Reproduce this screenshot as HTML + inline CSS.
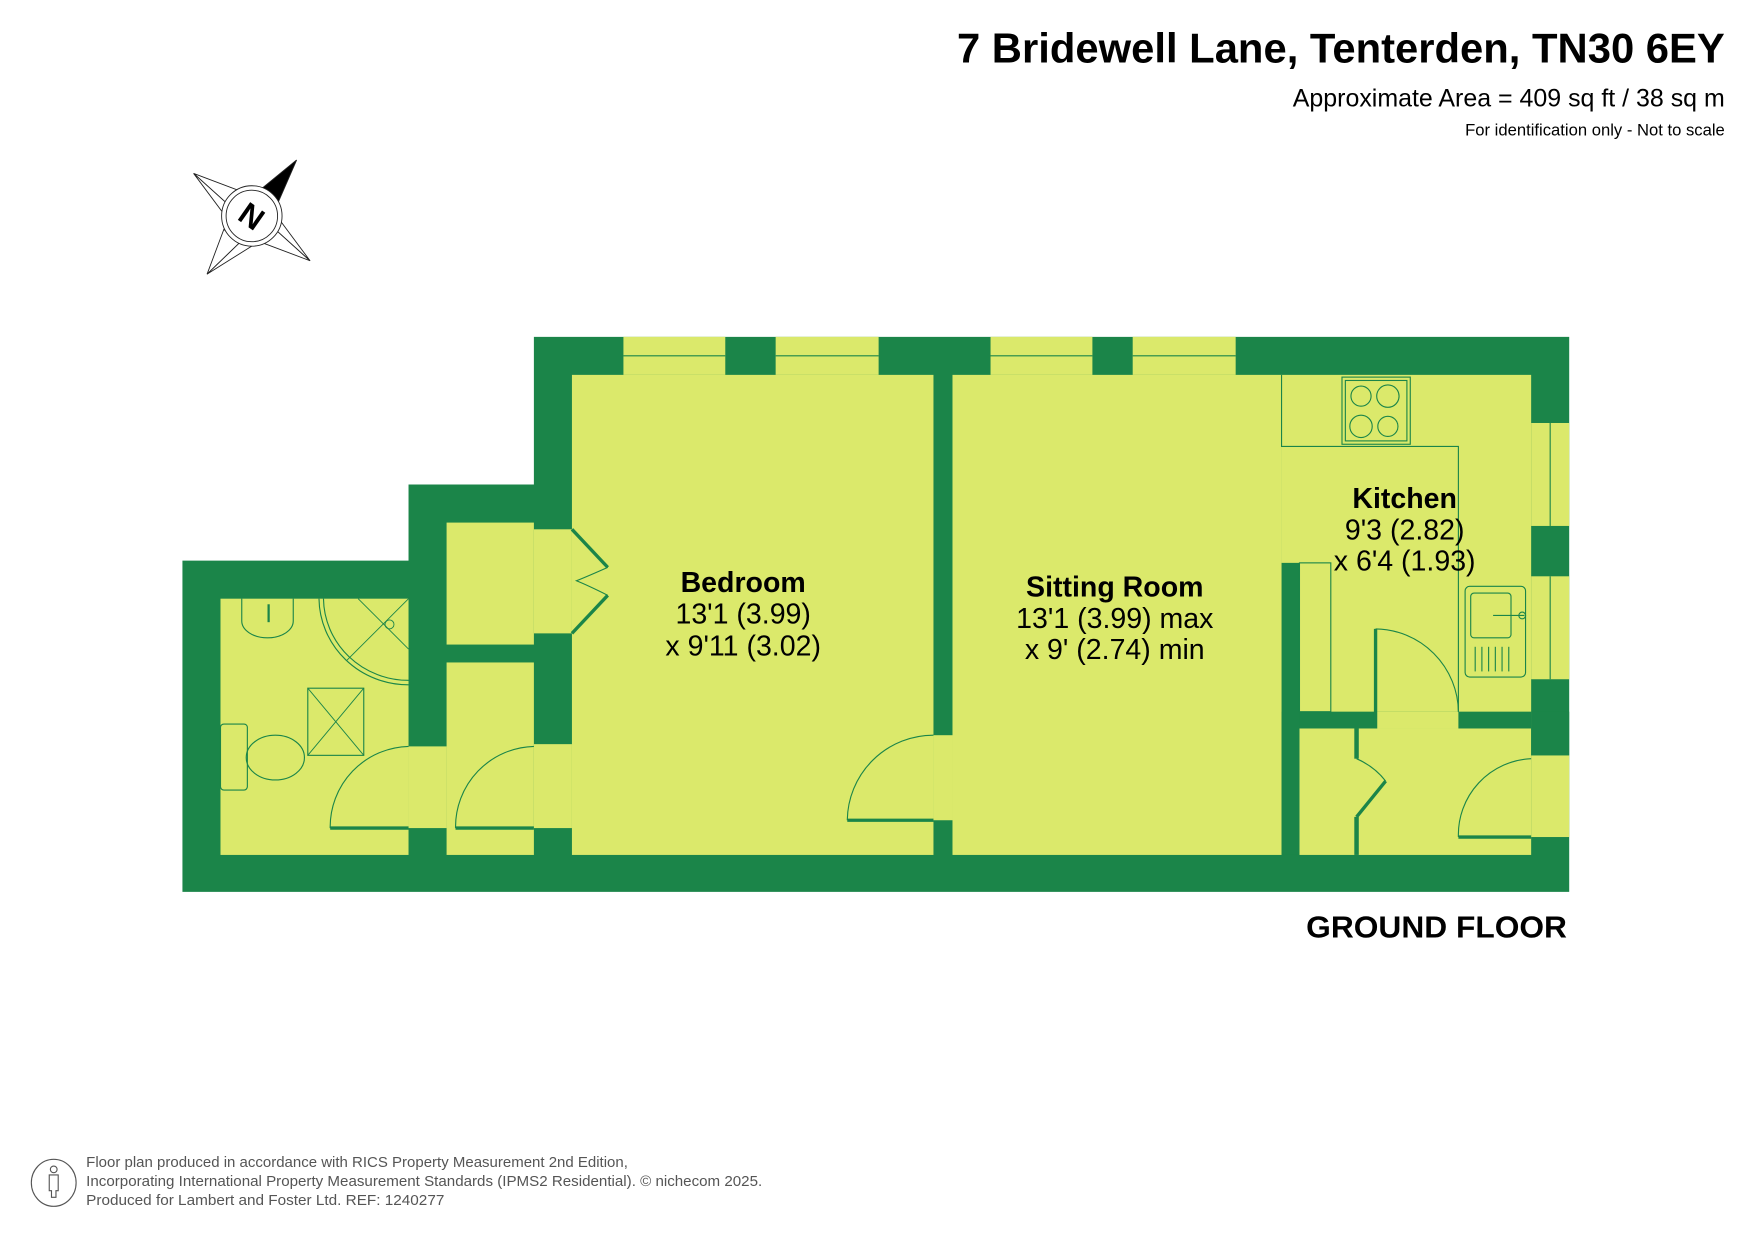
<!DOCTYPE html>
<html><head><meta charset="utf-8"><style>
html,body{margin:0;padding:0;background:#fff;}
svg{display:block;}
text{font-family:"Liberation Sans",Arial,sans-serif;}
</style></head><body>
<svg width="1755" height="1241" viewBox="0 0 1568 1109" preserveAspectRatio="none" xmlns="http://www.w3.org/2000/svg">
<rect width="1568" height="1109" fill="#fff"/>
<!-- titles -->
<text x="855" y="56" textLength="686" lengthAdjust="spacingAndGlyphs" font-size="37" font-weight="bold" fill="#000">7 Bridewell Lane, Tenterden, TN30 6EY</text>
<text x="1155" y="95" textLength="386" lengthAdjust="spacingAndGlyphs" font-size="22" fill="#000">Approximate Area = 409 sq ft / 38 sq m</text>
<text x="1309" y="121" textLength="232" lengthAdjust="spacingAndGlyphs" font-size="14.5" fill="#000">For identification only - Not to scale</text>

<!-- compass -->
<g stroke="#222" stroke-width="0.8" fill="#fff">
<polygon points="173,155 226,175 214,192"/>
<polygon points="173,155 205,198 214,192"/>
<polygon points="277,233 224,213 236,196"/>
<polygon points="277,233 245,190 236,196"/>
<polygon points="185,245 200,205 214,217"/>
<polygon points="185,245 228,218 214,217"/>
<polygon points="265,143 248,182 232,170" fill="#000"/>
<circle cx="225" cy="193" r="27"/>
<circle cx="225" cy="193" r="23"/>
</g>
<text x="225" y="203" text-anchor="middle" font-size="28" font-weight="bold" transform="rotate(35 225 193)">N</text>

<!-- walls -->
<polygon points="163,501 365,501 365,433 477,433 477,301 1402,301 1402,797 163,797" fill="#1b8549"/>
<g fill="#dbe96b">
<rect x="197" y="535" width="168" height="229"/>
<rect x="399" y="467" width="78" height="109"/>
<rect x="399" y="592" width="78" height="172"/>
<rect x="511" y="335" width="323" height="429"/>
<rect x="851" y="335" width="294" height="429"/>
<rect x="1145" y="335" width="223" height="301"/>
<rect x="1161" y="651" width="207" height="113"/>
<rect x="1161" y="636" width="207" height="15"/>
<rect x="365" y="667" width="34" height="73"/>
<rect x="477" y="665" width="34" height="75"/>
<rect x="477" y="473" width="34" height="93"/>
<rect x="834" y="657" width="17" height="76"/>
<rect x="1368" y="675" width="34" height="73"/>
<rect x="557" y="301" width="91" height="34"/>
<rect x="693" y="301" width="92" height="34"/>
<rect x="885" y="301" width="91" height="34"/>
<rect x="1012" y="301" width="92" height="34"/>
<rect x="1368" y="378" width="34" height="92"/>
<rect x="1368" y="515" width="34" height="92"/>
</g>
<g stroke="#1b8549" stroke-width="1" fill="none">
<line x1="557" y1="318" x2="648" y2="318"/><line x1="693" y1="318" x2="785" y2="318"/>
<line x1="885" y1="318" x2="976" y2="318"/><line x1="1012" y1="318" x2="1104" y2="318"/>
<line x1="1385" y1="378" x2="1385" y2="470"/><line x1="1385" y1="515" x2="1385" y2="607"/>
</g>
<g fill="#1b8549">
<rect x="1145" y="503" width="16" height="261"/>
<rect x="1161" y="636" width="67" height="15"/>
<rect x="1303" y="636" width="65" height="15"/>
<rect x="1210" y="651" width="4" height="27"/>
<rect x="1210" y="730" width="4" height="34"/>
<rect x="1368" y="636" width="34" height="39"/>
</g>
<g stroke="#1b8549" fill="none">
<line x1="295" y1="740" x2="365" y2="740" stroke-width="3"/>
<path d="M295,740 A72,72 0 0 1 365,667" stroke-width="1"/>
<line x1="407" y1="740" x2="477" y2="740" stroke-width="3"/>
<path d="M407,740 A72,72 0 0 1 477,667" stroke-width="1"/>
<line x1="757" y1="733" x2="834" y2="733" stroke-width="3"/>
<path d="M757,733 A77,77 0 0 1 834,657" stroke-width="1"/>
<line x1="1229" y1="562" x2="1229" y2="651" stroke-width="3"/>
<path d="M1229,562 A75,75 0 0 1 1303,636" stroke-width="1"/>
<line x1="1303" y1="748" x2="1368" y2="748" stroke-width="3"/>
<path d="M1303,748 A68,68 0 0 1 1368,678" stroke-width="1"/>
<polyline points="511,473 543,507" stroke-width="3"/>
<polyline points="511,566 543,532" stroke-width="3"/>
<path d="M543,507 Q525,515 515,519 Q525,523 543,532" stroke-width="1"/>
<line x1="1212" y1="730" x2="1238" y2="698" stroke-width="3"/>
<path d="M1212,678 Q1228,685 1238,698" stroke-width="1"/>
<polyline points="1145,335 1145,399 1303,399 1303,636" stroke-width="1"/>
<rect x="1161" y="503" width="28" height="133" stroke-width="1"/>
<rect x="1199" y="337" width="61" height="60" stroke-width="1"/>
<rect x="1202" y="340" width="55" height="54" stroke-width="1"/>
<circle cx="1216" cy="354" r="9"/><circle cx="1240" cy="354" r="10"/>
<circle cx="1216" cy="381" r="10"/><circle cx="1240" cy="381" r="9"/>
<rect x="1309" y="524" width="54" height="81" rx="4" stroke-width="1"/>
<rect x="1314" y="530" width="36" height="40" rx="3" stroke-width="1"/>
<line x1="1334" y1="550" x2="1362" y2="550"/><circle cx="1360" cy="550" r="3"/>
<g stroke-width="1"><line x1="1318" y1="578" x2="1318" y2="600"/><line x1="1324" y1="578" x2="1324" y2="600"/><line x1="1330" y1="578" x2="1330" y2="600"/><line x1="1336" y1="578" x2="1336" y2="600"/><line x1="1342" y1="578" x2="1342" y2="600"/><line x1="1348" y1="578" x2="1348" y2="600"/></g>
<path d="M216,535 L216,555 A23,15 0 0 0 262,555 L262,535" stroke-width="1"/>
<line x1="240" y1="540" x2="240" y2="556" stroke-width="2"/>
<path d="M285,535 A80,78 0 0 0 365,612" stroke-width="1"/>
<path d="M289,535 A76,74 0 0 0 365,608" stroke-width="1"/>
<line x1="320" y1="535" x2="365" y2="580" stroke-width="0.8"/>
<line x1="365" y1="535" x2="310" y2="590" stroke-width="0.8"/>
<circle cx="348" cy="558" r="4" stroke-width="0.8"/>
<rect x="275" y="615" width="50" height="60" stroke-width="1"/>
<line x1="275" y1="615" x2="325" y2="675" stroke-width="0.8"/>
<line x1="325" y1="615" x2="275" y2="675" stroke-width="0.8"/>
<rect x="197" y="647" width="24" height="59" rx="3" stroke-width="1"/>
<ellipse cx="246" cy="677" rx="26" ry="20" stroke-width="1"/>
</g>

<g text-anchor="middle" fill="#000">
<text x="664" y="529" font-size="25.5" font-weight="bold">Bedroom</text>
<text x="664" y="557" font-size="25.5">13'1 (3.99)</text>
<text x="664" y="586" font-size="25.5">x 9'11 (3.02)</text>
<text x="996" y="533" font-size="25.5" font-weight="bold">Sitting Room</text>
<text x="996" y="561" font-size="25.5">13'1 (3.99) max</text>
<text x="996" y="589" font-size="25.5">x 9' (2.74) min</text>
<text x="1255" y="454" font-size="25.5" font-weight="bold">Kitchen</text>
<text x="1255" y="482" font-size="25.5">9'3 (2.82)</text>
<text x="1255" y="510" font-size="25.5">x 6'4 (1.93)</text>
</g>
<text x="1167" y="838" textLength="233" lengthAdjust="spacingAndGlyphs" font-size="27" font-weight="bold">GROUND FLOOR</text>

<g stroke="#555" fill="none" stroke-width="1">
<ellipse cx="48" cy="1057" rx="20" ry="21"/>
<circle cx="48" cy="1045" r="3"/>
<path d="M44,1050 L52,1050 L52,1064 L50,1064 L50,1070 L46,1070 L46,1064 L44,1064 Z"/>
</g>
<g font-size="13.5" fill="#555">
<text x="77" y="1043" textLength="484" lengthAdjust="spacingAndGlyphs">Floor plan produced in accordance with RICS Property Measurement 2nd Edition,</text>
<text x="77" y="1060" textLength="604" lengthAdjust="spacingAndGlyphs">Incorporating International Property Measurement Standards (IPMS2 Residential).   © nichecom 2025.</text>
<text x="77" y="1077" textLength="320" lengthAdjust="spacingAndGlyphs">Produced for Lambert and Foster Ltd.   REF: 1240277</text>
</g>
</svg>
</body></html>
